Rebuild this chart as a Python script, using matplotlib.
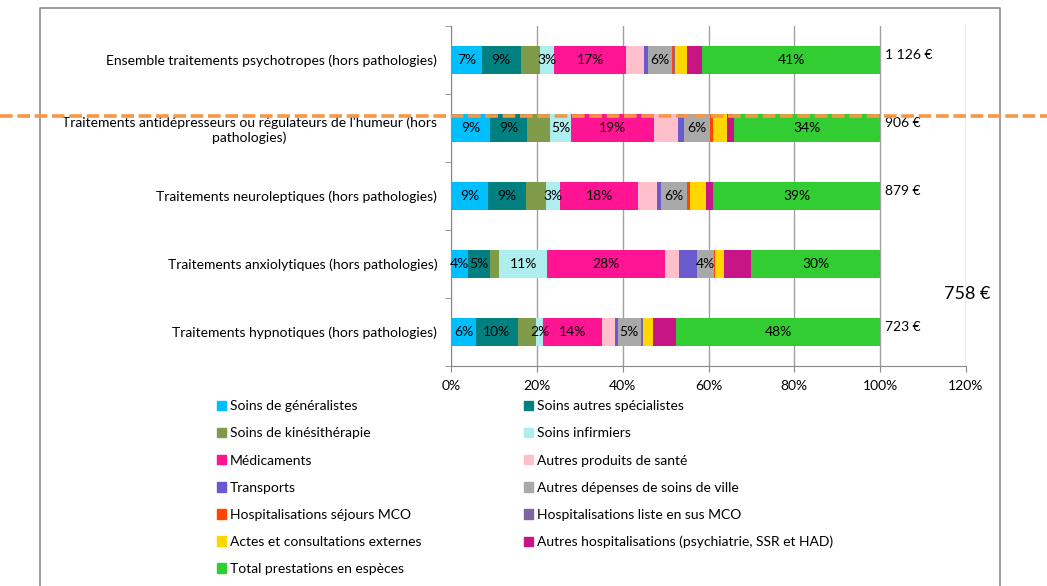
import matplotlib
matplotlib.use("Agg")
import matplotlib.pyplot as plt
from matplotlib.lines import Line2D
from matplotlib.patches import Patch

plt.rcParams['font.family'] = ['Lato', 'DejaVu Sans']

# catégories (de haut en bas)
categories = [
    "Ensemble traitements psychotropes (hors pathologies)",
    "Traitements antidépresseurs ou régulateurs de l'humeur (hors\npathologies)",
    "Traitements neuroleptiques (hors pathologies)",
    "Traitements anxiolytiques (hors pathologies)",
    "Traitements hypnotiques (hors pathologies)",
]

postes = [
    "Soins de généralistes",
    "Soins autres spécialistes",
    "Soins de kinésithérapie",
    "Soins infirmiers",
    "Médicaments",
    "Autres produits de santé",
    "Transports",
    "Autres dépenses de soins de ville",
    "Hospitalisations séjours MCO",
    "Hospitalisations liste en sus MCO",
    "Actes et consultations externes",
    "Autres hospitalisations (psychiatrie, SSR et HAD)",
    "Total prestations en espèces",
]

couleurs = [
    "#00BFFF", "#008080", "#7F9A48", "#AFEEEE", "#FF1493", "#FFC0CB",
    "#6A5ACD", "#A9A9A9", "#FF4500", "#8064A2", "#FFD700", "#C71585",
    "#32CD32",
]

# parts en % par poste, une valeur par catégorie
generalistes = [7.2, 9.0, 8.6, 4.0, 5.8]
specialistes = [9.0, 8.8, 8.9, 5.1, 9.8]
kine = [4.5, 5.3, 4.6, 2.1, 4.3]
infirmiers = [3.3, 4.9, 3.3, 11.2, 1.6]
medicaments = [16.8, 19.4, 18.2, 27.5, 13.6]
autres_produits = [4.1, 5.6, 4.3, 3.3, 3.2]
transports = [1.0, 1.2, 1.1, 4.2, 0.6]
autres_depenses = [5.7, 6.2, 6.0, 3.9, 5.3]
hospit_mco = [0.4, 0.6, 0.5, 0.2, 0.4]
liste_en_sus = [0.1, 0.1, 0.1, 0.1, 0.1]
actes_externes = [3.0, 3.1, 3.7, 2.1, 2.4]
autres_hospit = [3.5, 1.8, 1.7, 6.2, 5.3]
especes = [41.4, 34.0, 39.0, 30.1, 47.6]

series = [generalistes, specialistes, kine, infirmiers, medicaments,
          autres_produits, transports, autres_depenses, hospit_mco,
          liste_en_sus, actes_externes, autres_hospit, especes]

# postes dont la part est affichée
avec_etiquette = [0, 1, 3, 4, 7, 12]

totaux = ["1 126 €", "906 €", "879 €", "758 €", "723 €"]

fig = plt.figure(figsize=(10.47, 5.86), dpi=100)
ax = fig.add_axes([0.4308, 0.3754, 0.4918, 0.5802])

y = list(range(len(categories)))
gauche = [0.0] * len(categories)
for i, vals in enumerate(series):
    bars = ax.barh(y, vals, left=gauche, height=0.41, color=couleurs[i], zorder=3)
    if i in avec_etiquette:
        ax.bar_label(bars, labels=[f"{v:.0f}%" for v in vals],
                     label_type='center', fontsize=10, zorder=4)
    gauche = [g + v for g, v in zip(gauche, vals)]

# montants moyens
for j, t in enumerate(totaux):
    if j == 3:
        ax.text(114.8, 3.44, t, fontsize=13, va='center', ha='left')
    else:
        ax.text(101.2, j - 0.07, t, fontsize=10, va='center', ha='left')

ax.set_xlim(0, 120)
ax.set_ylim(4.5, -0.5)
ax.set_xticks(range(0, 121, 20))
ax.set_xticklabels([f"{v}%" for v in range(0, 121, 20)], fontsize=10)
ax.set_yticks(y)
ax.set_yticklabels(categories, fontsize=10, multialignment='center')
ax.set_yticks([k + 0.5 for k in range(-1, 5)], minor=True)
ax.tick_params(axis='y', which='major', length=0, pad=10)
ax.tick_params(axis='y', which='minor', length=4, color='#888888')
ax.tick_params(axis='x', length=4, color='#888888', pad=6)
ax.grid(axis='x', color='#A0A0A0', linewidth=1, zorder=0)
for s in ['top', 'right']:
    ax.spines[s].set_visible(False)
for s in ['left', 'bottom']:
    ax.spines[s].set_color('#888888')

# légende sur deux colonnes, lue ligne par ligne
poignees = [Patch(color=c) for c in couleurs]
ordre = list(range(0, 13, 2)) + list(range(1, 13, 2))
fig.legend([poignees[k] for k in ordre], [postes[k] for k in ordre],
           ncol=2, loc='upper left', bbox_to_anchor=(0.207, 0.317),
           frameon=False, fontsize=10, handlelength=0.68, handleheight=0.68,
           handletextpad=0.25, columnspacing=7.4, labelspacing=1.09,
           borderaxespad=0, borderpad=0)

# cadre du graphique
cadre = Line2D([40 / 1047, 40 / 1047, 1000 / 1047, 1000 / 1047],
               [0, 1 - 8 / 586, 1 - 8 / 586, 0],
               transform=fig.transFigure, color='#8C8C8C', linewidth=1.2)
fig.add_artist(cadre)

# ligne pointillée orange
ligne = Line2D([0, 1], [1 - 116 / 586, 1 - 116 / 586], transform=fig.transFigure,
               color='#F79646', linewidth=2.6, dashes=(3.5, 1.3), zorder=10)
fig.add_artist(ligne)

fig.savefig("out.png", dpi=100)
